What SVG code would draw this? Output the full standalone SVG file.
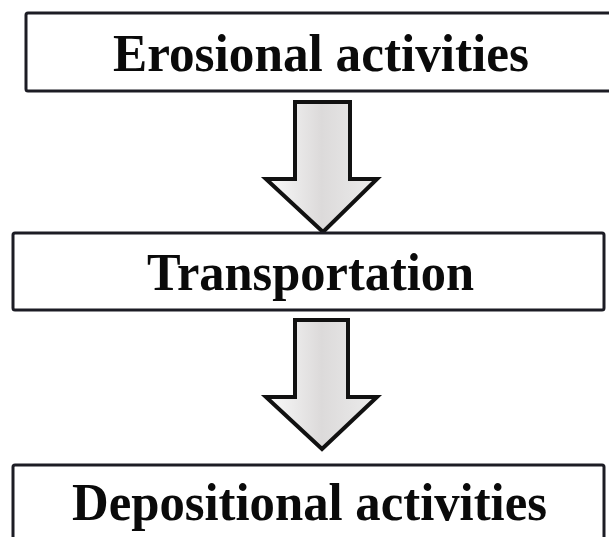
<svg xmlns="http://www.w3.org/2000/svg" width="609" height="537" viewBox="0 0 609 537">
  <defs>
    <linearGradient id="arrowFill" x1="0" y1="0" x2="1" y2="0">
      <stop offset="0" stop-color="#fbfbfb"/>
      <stop offset="0.5" stop-color="#dcdada"/>
      <stop offset="1" stop-color="#ececec"/>
    </linearGradient>
    <style>
      .box { fill: #ffffff; stroke: #1c1c24; stroke-width: 3; }
      .label { font-family: "Liberation Serif", "Times New Roman", serif; font-weight: bold; font-size: 52px; fill: #0a0a0a; text-anchor: middle; }
      .arrow { fill: url(#arrowFill); stroke: #111111; stroke-width: 4; stroke-linejoin: miter; }
    </style>
  </defs>
  <rect width="609" height="537" fill="#ffffff"/>
  <g id="connectors">
    <polygon class="arrow" points="295,102 350,102 350,179 377,179 323,232 266,179 295,179"/>
    <polygon class="arrow" points="295,320 348,320 348,397 377,397 322,449 266,397 295,397"/>
  </g>
  <g id="node-erosional">
    <rect class="box" x="26" y="13" width="600" height="78" rx="2"/>
    <text class="label" x="321" y="71" textLength="416" lengthAdjust="spacingAndGlyphs">Erosional activities</text>
  </g>
  <g id="node-transportation">
    <rect class="box" x="13" y="233" width="591" height="77" rx="2"/>
    <text class="label" x="310.5" y="290" textLength="327" lengthAdjust="spacingAndGlyphs">Transportation</text>
  </g>
  <g id="node-depositional">
    <rect class="box" x="13" y="465" width="591" height="90" rx="2"/>
    <text class="label" x="309.5" y="520" textLength="475" lengthAdjust="spacingAndGlyphs">Depositional activities</text>
  </g>
</svg>
